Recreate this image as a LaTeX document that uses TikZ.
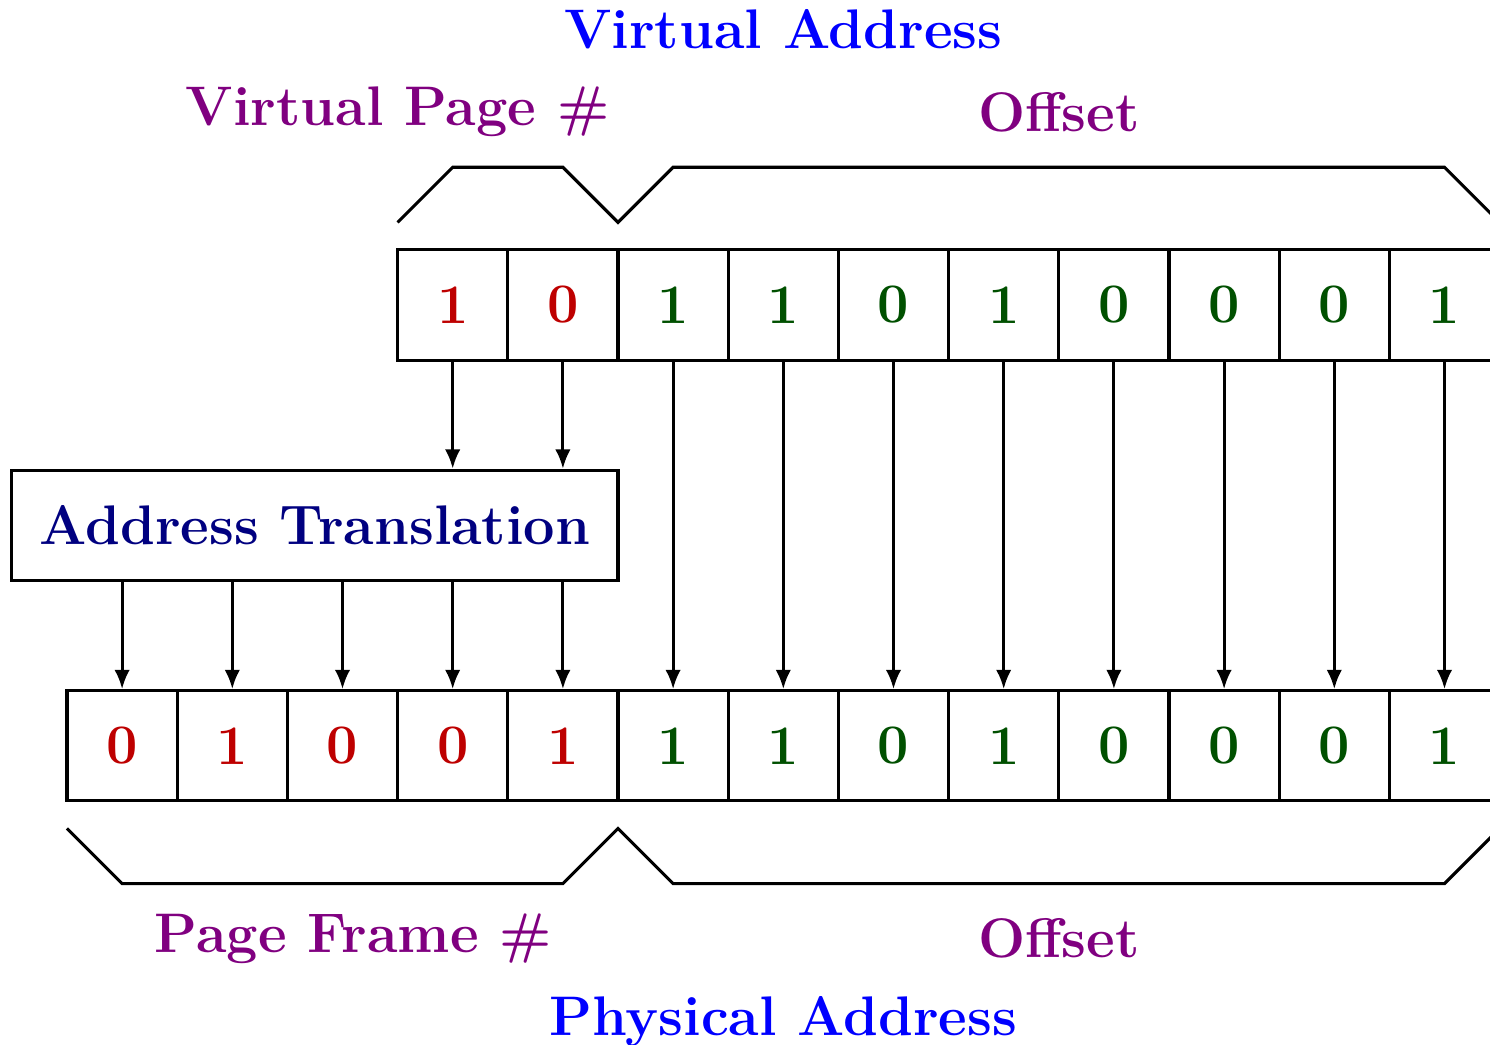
\documentclass[tikz,border=0pt]{standalone}
\usepackage{tikz}
\usetikzlibrary{positioning,calc,arrows.meta}
\definecolor{bitred}{RGB}{190,0,0}
\definecolor{bitgreen}{RGB}{0,80,0}
\definecolor{boxnavy}{RGB}{0,0,128}
\definecolor{fieldpurple}{RGB}{128,0,128}
\definecolor{addrblue}{RGB}{0,0,255}

\begin{document}
\begin{tikzpicture}[
    cell/.style = {draw, thick, minimum size=1cm, inner sep=0pt, font=\Large\bfseries},
    field/.style = {text=fieldpurple, font=\Large\bfseries},
    addr/.style = {text=addrblue, font=\Large\bfseries},
    bitarrow/.style = {thick, -{Latex[length=5pt,width=4pt]}},
    brace/.style = {thick, line join=miter}]
    \useasboundingbox (-0.608, -2.214) rectangle (12.913, 7.268);
    \foreach \b/\c [count=\i from 0] in {1/bitred, 0/bitred, 1/bitgreen, 1/bitgreen, 0/bitgreen, 1/bitgreen, 0/bitgreen, 0/bitgreen, 0/bitgreen, 1/bitgreen}
        \node[cell, text=\c] (v\i) at (3.5+\i, 4.5) {\b};
    \foreach \b/\c [count=\i from 0] in {0/bitred, 1/bitred, 0/bitred, 0/bitred, 1/bitred, 1/bitgreen, 1/bitgreen, 0/bitgreen, 1/bitgreen, 0/bitgreen, 0/bitgreen, 0/bitgreen, 1/bitgreen}
        \node[cell, text=\c] (p\i) at (0.5+\i, 0.5) {\b};
    \node[draw, thick, minimum width=5.5cm, minimum height=1cm, inner sep=0pt, text=boxnavy, font=\Large\bfseries] (at) at (2.25, 2.5) {Address Translation};
    \foreach \i in {0, 1}
        \draw[bitarrow] (v\i.south) -- (v\i |- at.north);
    \foreach \i in {0, ..., 4}
        \draw[bitarrow] (p\i |- at.south) -- (p\i.north);
    \foreach \i [evaluate=\i as \j using int(\i+3)] in {2, ..., 9}
        \draw[bitarrow] (v\i.south) -- (p\j.north);
    \draw[brace] (3, 5.25) -- (3.5, 5.75) -- (4.5, 5.75) -- (5, 5.25) -- (5.5, 5.75) -- (12.5, 5.75) -- (13, 5.25);
    \draw[brace] (0, -0.25) -- (0.5, -0.75) -- (4.5, -0.75) -- (5, -0.25) -- (5.5, -0.75) -- (12.5, -0.75) -- (13, -0.25);
    \node[addr] (va) at (6.5, 7) {Virtual Address};
    \node[field] (vpn) at (3, 6.25) {Virtual Page \#};
    \node[field] (voff) at (9, 6.25) {Offset};
    \node[field] (pfn) at (2.6, -1.25) {Page Frame \#};
    \node[field] (poff) at (9, -1.25) {Offset};
    \node[addr] (pa) at (6.5, -2) {Physical Address};
\end{tikzpicture}
\end{document}
